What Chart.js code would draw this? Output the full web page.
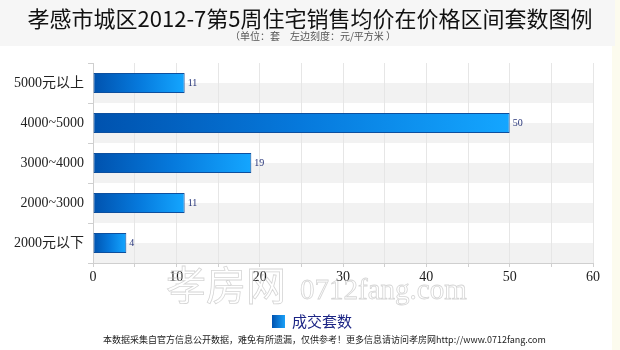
<!DOCTYPE html>
<html>
<head>
<meta charset="utf-8">
<script src="https://cdn.jsdelivr.net/npm/chart.js@4.4.0/dist/chart.umd.min.js"></script>
<style>
  html, body { margin:0; padding:0; background:#fff; }
  #wrap { position:relative; width:620px; height:350px; }
</style>
</head>
<body>
<div id="wrap"><canvas id="c" width="620" height="350"></canvas></div>
<script>
// price bands (top to bottom) and number of sold units
const categories = ['5000元以上', '4000~5000', '3000~4000', '2000~3000', '2000元以下'];
const units = [11, 50, 19, 11, 4];
const xTicks = [0, 10, 20, 30, 40, 50, 60];

const TITLE = '孝感市城区2012-7第5周住宅销售均价在价格区间套数图例';
const SUBTITLE = '（单位：套　左边刻度：元/平方米 ）';
const SERIES = '成交套数';
const FOOT = '本数据采集自官方信息公开数据，难免有所遗漏，仅供参考！更多信息请访问孝房网http://www.0712fang.com';

const SERIF = '"Liberation Serif", "DejaVu Serif", "Noto Sans CJK SC", serif';
const SANS = '"Noto Sans CJK SC", sans-serif';

// page decoration: header band, stripes behind the bars, watermark, legend and footer
const decor = {
  id: 'decor',
  beforeDraw(chart) {
    const { ctx, chartArea: a, scales: { y } } = chart;
    ctx.save();
    ctx.fillStyle = '#fcfbee';
    ctx.fillRect(612, 0, 8, 350);
    ctx.fillStyle = '#f6f6f6';
    ctx.fillRect(0, 0, 615, 46);
    // lower half of every row is shaded
    const half = (y.getPixelForValue(1) - y.getPixelForValue(0)) / 2;
    ctx.fillStyle = '#f2f2f2';
    categories.forEach((c, i) => {
      const cy = y.getPixelForValue(i);
      ctx.fillRect(a.left, cy, a.right - a.left, half);
    });
    ctx.restore();
  },
  afterDraw(chart) {
    const { ctx } = chart;
    ctx.save();
    ctx.textAlign = 'center';
    ctx.fillStyle = '#111';
    ctx.font = '22px ' + SANS;
    ctx.fillText(TITLE, 310, 27);
    ctx.fillStyle = '#555';
    ctx.font = '10px ' + SANS;
    ctx.fillText(SUBTITLE, 313, 40);

    // outlined site watermark
    ctx.textAlign = 'left';
    ctx.strokeStyle = 'rgba(190,190,190,0.65)';
    ctx.lineWidth = 0.8;
    ctx.font = '40px ' + SANS;
    ctx.strokeText('孝房网', 166, 300);
    ctx.font = '29px ' + SERIF;
    ctx.strokeText('0712fang.com', 300, 299);

    // legend
    const g = ctx.createLinearGradient(272, 0, 285, 0);
    g.addColorStop(0, '#0052b0');
    g.addColorStop(1, '#1aa0f8');
    ctx.fillStyle = g;
    ctx.fillRect(272, 315, 13, 13);
    ctx.fillStyle = '#1c2585';
    ctx.font = '15px ' + SANS;
    ctx.fillText(SERIES, 292, 327);

    ctx.fillStyle = '#222';
    ctx.font = '9px ' + SANS;
    ctx.fillText(FOOT, 103, 343);
    ctx.restore();
  }
};

// value printed just past the end of each bar
const valueLabels = {
  id: 'valueLabels',
  afterDatasetsDraw(chart) {
    const { ctx } = chart;
    const meta = chart.getDatasetMeta(0);
    ctx.save();
    ctx.fillStyle = '#27357a';
    ctx.font = '10px ' + SERIF;
    ctx.textBaseline = 'middle';
    meta.data.forEach((bar, i) => ctx.fillText(String(units[i]), bar.x + 3, bar.y));
    ctx.restore();
  }
};

// each bar runs dark blue at its base to bright blue at its tip
function barFill(context) {
  const { chart } = context;
  const x = chart.scales && chart.scales.x;
  if (!chart.chartArea || !x || context.raw == null) return '#0a78d8';
  const x0 = x.getPixelForValue(0), x1 = x.getPixelForValue(context.raw);
  const g = chart.ctx.createLinearGradient(x0, 0, x1, 0);
  g.addColorStop(0, '#0052ae');
  g.addColorStop(0.5, '#0679dc');
  g.addColorStop(1, '#14a6ff');
  return g;
}

new Chart(document.getElementById('c'), {
  type: 'bar',
  data: {
    labels: categories,
    datasets: [{
      label: SERIES,
      data: units,
      backgroundColor: barFill,
      borderColor: '#0d4f9e',
      borderWidth: 1,
      borderSkipped: false,
      categoryPercentage: 1,
      barPercentage: 0.5
    }]
  },
  options: {
    indexAxis: 'y',
    responsive: false,
    animation: false,
    layout: { padding: { left: 0, right: 27, top: 63, bottom: 57 } },
    plugins: { legend: { display: false }, title: { display: false }, tooltip: { enabled: false } },
    scales: {
      x: {
        min: 0, max: 60,
        afterFit: s => { s.height = 30; },
        afterBuildTicks: s => { s.ticks = []; for (let v = 0; v <= 60; v += 5) s.ticks.push({ value: v }); },
        ticks: {
          callback: v => xTicks.includes(v) ? String(v) : '',
          color: '#222', font: { family: SERIF, size: 14 }, padding: 2, maxRotation: 0, autoSkip: false
        },
        grid: { color: '#e6e6e6', tickLength: 4, tickColor: '#cfcfcf' },
        border: { color: '#cfcfcf' }
      },
      y: {
        afterFit: s => { s.width = 93; },
        ticks: { color: '#222', font: { family: SERIF, size: 14 }, padding: 4 },
        grid: { offset: true, drawOnChartArea: false, tickLength: 5, tickColor: '#cfcfcf' },
        border: { color: '#cfcfcf' }
      }
    }
  },
  plugins: [decor, valueLabels]
});
</script>
</body>
</html>
